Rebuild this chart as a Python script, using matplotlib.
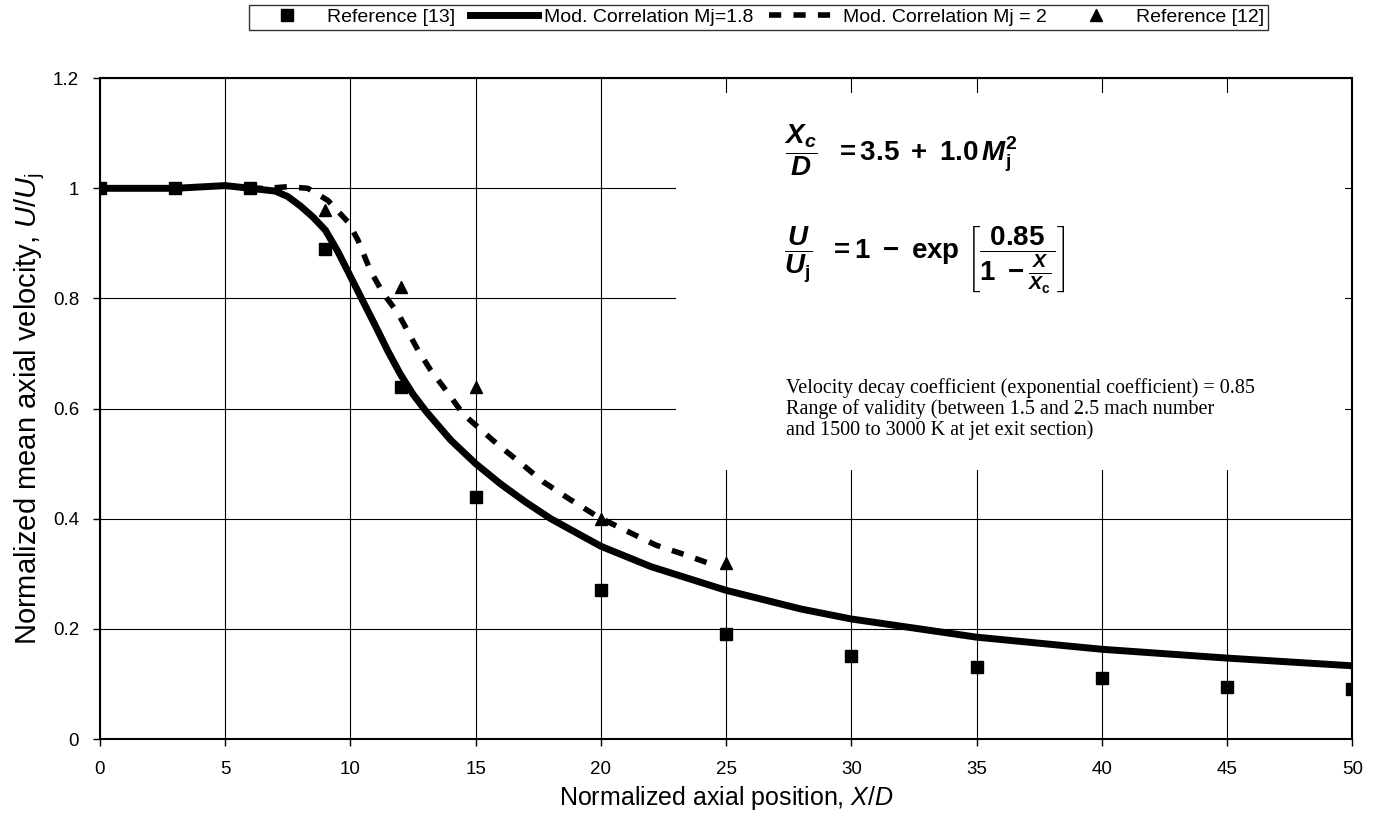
import numpy as np
import matplotlib.pyplot as plt
from matplotlib.patches import Rectangle

plt.rcParams['font.family'] = ['Liberation Sans', 'DejaVu Sans']
plt.rcParams['mathtext.fontset'] = 'custom'
plt.rcParams['mathtext.rm'] = 'Liberation Sans'
plt.rcParams['mathtext.it'] = 'Liberation Sans:italic'
plt.rcParams['mathtext.bf'] = 'Liberation Sans:bold'
plt.rcParams['mathtext.bfit'] = 'Liberation Sans:bold:italic'

# measured data
ref13_x = [0, 3, 6, 9, 12, 15, 20, 25, 30, 35, 40, 45, 50]
ref13_u = [1.0, 1.0, 1.0, 0.89, 0.64, 0.44, 0.27, 0.19, 0.15, 0.13, 0.11, 0.095, 0.09]

ref12_x = [9, 12, 15, 20, 25]
ref12_u = [0.96, 0.82, 0.64, 0.40, 0.32]

# modified correlation, Mj = 1.8
corr18_x = [0, 3, 5, 6, 7, 7.5, 8, 8.5, 9, 9.5, 10, 10.5, 11, 11.5, 12, 12.5, 13,
            14, 15, 16, 17, 18, 20, 22, 25, 28, 30, 35, 40, 45, 50]
corr18_u = [1.0, 1.0, 1.005, 1.0, 0.995, 0.985, 0.968, 0.948, 0.924, 0.885, 0.84,
            0.795, 0.75, 0.704, 0.662, 0.626, 0.596, 0.543, 0.50, 0.463, 0.43, 0.40,
            0.35, 0.313, 0.27, 0.236, 0.218, 0.185, 0.163, 0.147, 0.133]

# modified correlation, Mj = 2
corr2_x = [6, 6.7, 7.5, 8.3, 9.1, 9.9, 10.3, 10.8, 11.3, 11.9, 12.7, 13.2, 13.9,
           14.5, 15.1, 15.9, 16.8, 17.7, 18.7, 19.9, 21.2, 22.2, 23.4, 24.5]
corr2_u = [1.0, 1.0, 1.003, 1.0, 0.978, 0.939, 0.906, 0.85, 0.81, 0.773, 0.706,
           0.67, 0.628, 0.59, 0.566, 0.534, 0.501, 0.467, 0.437, 0.403, 0.374,
           0.352, 0.334, 0.316]

fig = plt.figure(figsize=(13.73, 8.23), dpi=100)
ax = fig.add_axes([0.0728, 0.102, 0.9122, 0.803])

l13, = ax.plot(ref13_x, ref13_u, ls='none', marker='s', ms=8, color='black',
               label='Reference [13]', zorder=4)
l18, = ax.plot(corr18_x, corr18_u, color='black', lw=5,
               label='Mod. Correlation Mj=1.8', zorder=3)
l2, = ax.plot(corr2_x, corr2_u, color='black', lw=4, ls=(0, (2.2, 2.2)),
              dash_capstyle='butt', label='Mod. Correlation Mj = 2', zorder=3)
l12, = ax.plot(ref12_x, ref12_u, ls='none', marker='^', ms=9, color='black',
               label='Reference [12]', zorder=4)

ax.set_xlim(0, 50)
ax.set_ylim(0, 1.2)
ax.set_xticks(np.arange(0, 51, 5))
ax.set_yticks([0, 0.2, 0.4, 0.6, 0.8, 1.0, 1.2])
ax.set_yticklabels(['0', '0.2', '0.4', '0.6', '0.8', '1', '1.2'])
ax.tick_params(direction='out', length=5, width=1, labelsize=13.5)
ax.tick_params(axis='x', pad=11)
ax.tick_params(axis='y', pad=10)
ax.grid(True, color='black', lw=0.8)
ax.set_axisbelow(True)
for s in ax.spines.values():
    s.set_linewidth(1.5)

# blank panel behind the equations
ax.add_patch(Rectangle((23.0, 0.488), 26.7, 0.685, facecolor='white',
                       edgecolor='none', zorder=1))

ax.set_xlabel(r'Normalized axial position, $\mathit{X/D}$', fontsize=18)
ax.xaxis.set_label_coords(0.5, -0.089)
ax.xaxis.label.set_va('center')
ax.set_ylabel(r'Normalized mean axial velocity, $\mathit{U/U}_\mathrm{j}$',
              fontsize=21)
ax.yaxis.set_label_coords(-0.056, 0.5)
ax.yaxis.label.set_va('center')

ax.text(27.3, 1.069,
        r'$\dfrac{\mathbfit{X}_\mathbfit{c}}{\mathbfit{D}}\ \ \mathbf{=3.5\ +\ 1.0}\,'
        r'\mathbfit{M}_\mathbf{j}^\mathbf{2}$',
        fontsize=20, va='center', ha='left', zorder=5)
ax.text(27.3, 0.87,
        r'$\dfrac{\mathbfit{U}}{\mathbfit{U}_\mathbf{j}}\ \ \mathbf{=1\ -\ exp}\ '
        r'\left[\dfrac{\mathbf{0.85}}{\mathbf{1\ -}\frac{\mathbfit{X}}{\mathbfit{X}_\mathbf{c}}}\right]$',
        fontsize=20, va='center', ha='left', zorder=5)

ax.text(27.4, 0.656,
        'Velocity decay coefficient (exponential coefficient) = 0.85\n'
        'Range of validity (between 1.5 and 2.5 mach number\n'
        'and 1500 to 3000 K at jet exit section)',
        family='Liberation Serif', fontsize=14.5, va='top', ha='left',
        linespacing=1.1, zorder=5)

leg = fig.legend(handles=[l13, l18, l2, l12], loc='center',
                 bbox_to_anchor=(0.5525, 0.979), ncol=4, fontsize=14,
                 frameon=True, fancybox=False, edgecolor='black',
                 handlelength=3.5, columnspacing=0.8, borderpad=0.2,
                 handletextpad=0.3, borderaxespad=0)
leg.get_frame().set_linewidth(1.0)

fig.savefig('out.png', dpi=100)
